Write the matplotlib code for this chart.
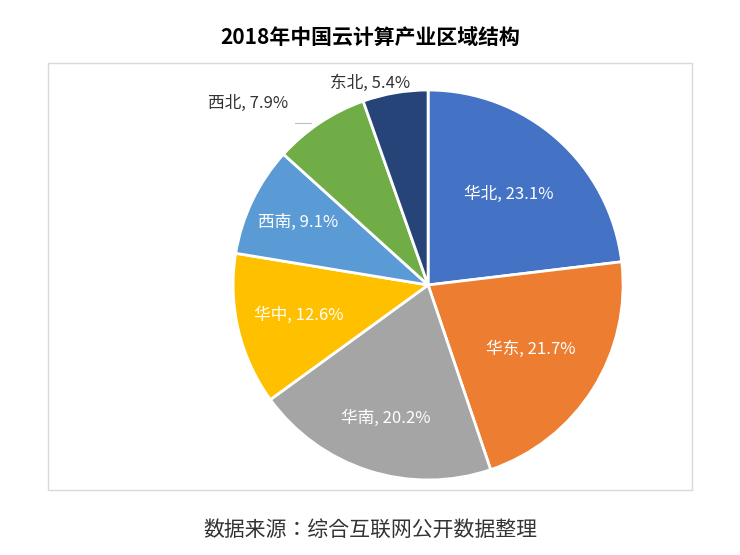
import matplotlib.pyplot as plt
import numpy as np
from matplotlib import font_manager
from matplotlib.patches import Rectangle

# pick a CJK font file that is actually installed
cjk = [f for f in font_manager.findSystemFonts() if 'CJK' in f or 'Noto' in f and 'SC' in f]
if cjk:
    font_manager.fontManager.addfont(sorted(cjk)[0])
    name = font_manager.FontProperties(fname=sorted(cjk)[0]).get_name()
    plt.rcParams['font.family'] = [name, 'DejaVu Sans']
else:
    plt.rcParams['font.family'] = ['Noto Sans CJK SC', 'DejaVu Sans']

regions = ['华北', '华东', '华南', '华中', '西南', '西北', '东北']
shares = [23.1, 21.7, 20.2, 12.6, 9.1, 7.9, 5.4]
colors = ['#4472C4', '#ED7D31', '#A5A5A5', '#FFC000', '#5B9BD5', '#70AD47', '#264478']
# label radius as fraction of pie radius; >1 means outside
label_r = [0.62, 0.62, 0.72, 0.68, 0.74, 1.12, 1.05]

fig = plt.figure(figsize=(7.4, 5.55), dpi=100)
fig.patches.append(Rectangle((0.065, 0.117), 0.87, 0.77, transform=fig.transFigure,
                             fill=False, edgecolor='#D9D9D9', linewidth=1))
fig.text(0.5, 0.933, '2018年中国云计算产业区域结构', ha='center', va='center',
         fontsize=15, fontweight='bold')
fig.text(0.5, 0.045, '数据来源：综合互联网公开数据整理', ha='center', va='center',
         fontsize=15, color='#333333')

ax = fig.add_axes([0.315, 0.135, 0.527, 0.703])
wedges, _ = ax.pie(shares, colors=colors, startangle=90, counterclock=False,
                   wedgeprops=dict(edgecolor='white', linewidth=2))
ax.set_xlim(-1, 1)
ax.set_ylim(-1, 1)
ax.set_aspect('equal')

for w, name, v, r in zip(wedges, regions, shares, label_r):
    ang = np.deg2rad((w.theta1 + w.theta2) / 2)
    x, y = r * np.cos(ang), r * np.sin(ang)
    inside = r < 1
    if not inside:
        x -= 0.3 if name == '西北' else 0.12
    ax.text(x, y, f'{name}, {v}%', ha='center', va='center', fontsize=12,
            color='white' if inside else '#333333', clip_on=False)
ax.plot([-0.68, -0.6], [0.83, 0.83], color='#BFBFBF', linewidth=0.8, clip_on=False)

fig.savefig('out.png', dpi=100)
